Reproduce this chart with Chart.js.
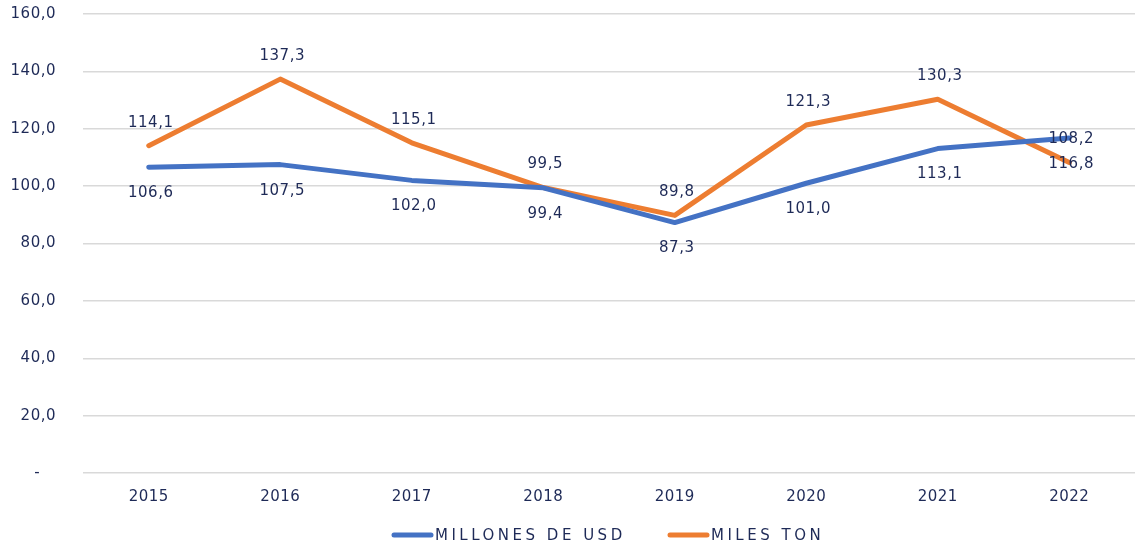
<!DOCTYPE html>
<html>
<head>
<meta charset="utf-8">
<script src="https://cdn.jsdelivr.net/npm/chart.js@4/dist/chart.umd.min.js"></script>
<style>
  html, body { margin: 0; padding: 0; background: #fff; }
  #wrap { width: 1135px; height: 546px; position: relative; }
</style>
</head>
<body>
<div id="wrap"><canvas id="lineChart"></canvas></div>
<script>
// data
var years = ['2015', '2016', '2017', '2018', '2019', '2020', '2021', '2022'];
var millonesUsd = [106.6, 107.5, 102.0, 99.4, 87.3, 101.0, 113.1, 116.8];
var milesTon = [114.1, 137.3, 115.1, 99.5, 89.8, 121.3, 130.3, 108.2];
var seriesNames = ['MILLONES DE USD', 'MILES TON'];

var textColor = '#1e2a57';
var fontFamily = '"DejaVu Sans", sans-serif';

function fmt(v) {
  return v.toFixed(1).replace('.', ',');
}

// a little tracking on all canvas text, like the original
var spacing = {
  id: 'spacing',
  beforeDraw: function (chart) {
    chart.ctx.letterSpacing = '0.5px';
  }
};

// value labels: blue below the point, orange above
var valueLabels = {
  id: 'valueLabels',
  afterDatasetsDraw: function (chart) {
    var ctx = chart.ctx;
    ctx.save();
    ctx.font = '15px ' + fontFamily;
    ctx.fillStyle = textColor;
    ctx.textAlign = 'center';
    ctx.textBaseline = 'middle';
    ctx.letterSpacing = '0.5px';
    chart.data.datasets.forEach(function (ds, i) {
      var meta = chart.getDatasetMeta(i);
      meta.data.forEach(function (pt, j) {
        var dy = i === 0 ? 26 : -23;
        ctx.fillText(fmt(ds.data[j]), pt.x + 2, pt.y + dy);
      });
    });
    ctx.restore();
  }
};

// legend drawn under the axis, spaced out like the original
var spacedLegend = {
  id: 'spacedLegend',
  afterDraw: function (chart) {
    var ctx = chart.ctx;
    var y = 535;
    var xs = [392, 668];
    ctx.save();
    ctx.font = '15px ' + fontFamily;
    ctx.letterSpacing = '3.5px';
    ctx.textBaseline = 'middle';
    ctx.textAlign = 'left';
    chart.data.datasets.forEach(function (ds, i) {
      ctx.strokeStyle = ds.borderColor;
      ctx.lineWidth = 5;
      ctx.lineCap = 'round';
      ctx.beginPath();
      ctx.moveTo(xs[i] + 2, y);
      ctx.lineTo(xs[i] + 39, y);
      ctx.stroke();
      ctx.fillStyle = textColor;
      ctx.fillText(ds.label, xs[i] + 43, y + 1);
    });
    ctx.restore();
  }
};

document.addEventListener('DOMContentLoaded', function () {
  var ctx = document.getElementById('lineChart').getContext('2d');
  new Chart(ctx, {
    type: 'line',
    data: {
      labels: years,
      datasets: [{
        label: seriesNames[0],
        data: millonesUsd,
        borderColor: '#4472c4',
        borderWidth: 5,
        pointRadius: 0,
        tension: 0,
        borderCapStyle: 'round',
        borderJoinStyle: 'round'
      }, {
        label: seriesNames[1],
        data: milesTon,
        borderColor: '#ed7d31',
        borderWidth: 5,
        pointRadius: 0,
        tension: 0,
        borderCapStyle: 'round',
        borderJoinStyle: 'round'
      }]
    },
    options: {
      responsive: true,
      maintainAspectRatio: false,
      animation: false,
      layout: { padding: { top: 14, right: 0, bottom: 43, left: 0 } },
      plugins: {
        legend: { display: false },
        tooltip: { enabled: false }
      },
      scales: {
        x: {
          offset: true,
          grid: { display: false, drawTicks: false },
          border: { display: false },
          ticks: { color: textColor, font: { family: fontFamily, size: 15 }, padding: 15 },
          afterFit: function (s) { s.height = 30; }
        },
        y: {
          min: 0,
          max: 160,
          ticks: {
            stepSize: 20,
            color: textColor,
            font: { family: fontFamily, size: 15 },
            padding: 27,
            // accounting style zero: a dash set in from the right
            callback: function (v) { return v === 0 ? '-   ' : fmt(v); }
          },
          grid: { color: '#d9d9d9', lineWidth: 1.5, drawTicks: false },
          border: { display: false },
          // tick padding would otherwise push the plot top down
          afterFit: function (s) {
            s.width = 83;
            s.paddingTop = 0;
            s.paddingBottom = 0;
          }
        }
      }
    },
    plugins: [spacing, valueLabels, spacedLegend]
  });
});
</script>
</body>
</html>
